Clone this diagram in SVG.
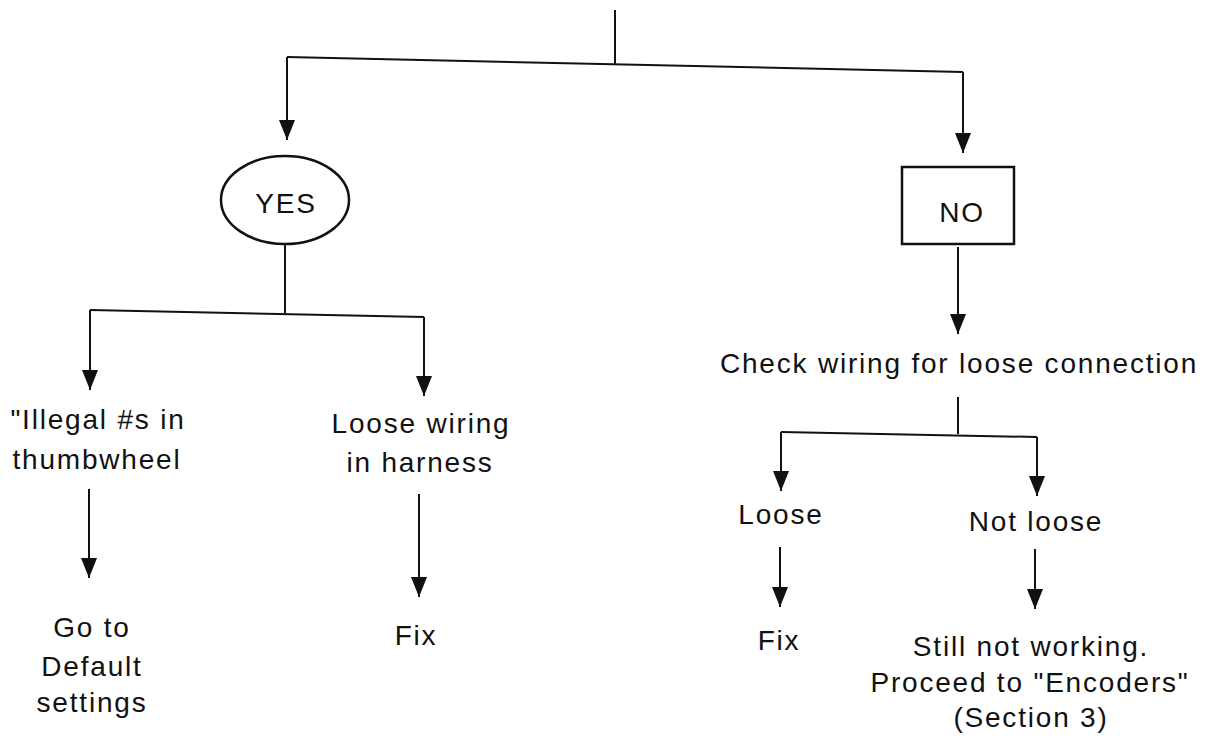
<svg xmlns="http://www.w3.org/2000/svg" width="1211" height="740" viewBox="0 0 1211 740">
<defs>
<style>
text{font-family:"Liberation Sans",Arial,Helvetica,sans-serif;font-size:28px;fill:#111;text-anchor:middle;letter-spacing:1.8px}
.ln{stroke:#111;stroke-width:2;fill:none}
.hd{fill:#111}
</style>
</defs>
<rect width="1211" height="740" fill="#fff"/>
<g id="connectors">
<line class="ln" x1="615" y1="10" x2="615" y2="65"/>
<line class="ln" x1="287" y1="57" x2="963" y2="72" stroke-width="2.5"/>
<path class="ln" d="M287,57 V140"/>
<polygon class="hd" points="279,120 295,120 287,140"/>
<path class="ln" d="M963,72 V153"/>
<polygon class="hd" points="955,133 971,133 963,153"/>
<line class="ln" x1="285" y1="245" x2="285" y2="313"/>
<line class="ln" x1="90" y1="310" x2="424" y2="317"/>
<path class="ln" d="M90,310 V390"/>
<polygon class="hd" points="82,370 98,370 90,390"/>
<path class="ln" d="M424,317 V396"/>
<polygon class="hd" points="416,376 432,376 424,396"/>
<path class="ln" d="M89,489 V578"/>
<polygon class="hd" points="81,558 97,558 89,578"/>
<path class="ln" d="M419,494 V597"/>
<polygon class="hd" points="411,577 427,577 419,597"/>
<path class="ln" d="M958,247 V334"/>
<polygon class="hd" points="950,314 966,314 958,334"/>
<line class="ln" x1="958" y1="397" x2="958" y2="434"/>
<line class="ln" x1="781" y1="432" x2="1037" y2="437"/>
<path class="ln" d="M781,432 V491"/>
<polygon class="hd" points="773,471 789,471 781,491"/>
<path class="ln" d="M1037,437 V496"/>
<polygon class="hd" points="1029,476 1045,476 1037,496"/>
<path class="ln" d="M780,547 V607"/>
<polygon class="hd" points="772,587 788,587 780,607"/>
<path class="ln" d="M1035,549 V609"/>
<polygon class="hd" points="1027,589 1043,589 1035,609"/>
</g>
<g id="yes">
<ellipse cx="285" cy="200" rx="64" ry="44" fill="none" stroke="#111" stroke-width="2.5"/>
<text x="286" y="213">YES</text>
</g>
<g id="no">
<rect x="902" y="167" width="112" height="77" fill="none" stroke="#111" stroke-width="2.5"/>
<text x="962" y="222">NO</text>
</g>
<g id="illegal">
<text x="98" y="429">"Illegal #s in</text>
<text x="97" y="469">thumbwheel</text>
</g>
<g id="loosewiring">
<text x="421" y="433">Loose wiring</text>
<text x="420" y="472">in harness</text>
</g>
<g id="default">
<text x="92" y="637">Go to</text>
<text x="92" y="676">Default</text>
<text x="92" y="712">settings</text>
</g>
<g id="fix1">
<text x="416" y="645">Fix</text>
</g>
<g id="check">
<text x="959" y="373">Check wiring for loose connection</text>
</g>
<g id="loose">
<text x="781" y="524">Loose</text>
</g>
<g id="notloose">
<text x="1036" y="531">Not loose</text>
</g>
<g id="fix2">
<text x="779" y="650">Fix</text>
</g>
<g id="still">
<text x="1031" y="656">Still not working.</text>
<text x="1030" y="692">Proceed to "Encoders"</text>
<text x="1031" y="727">(Section 3)</text>
</g>
</svg>
